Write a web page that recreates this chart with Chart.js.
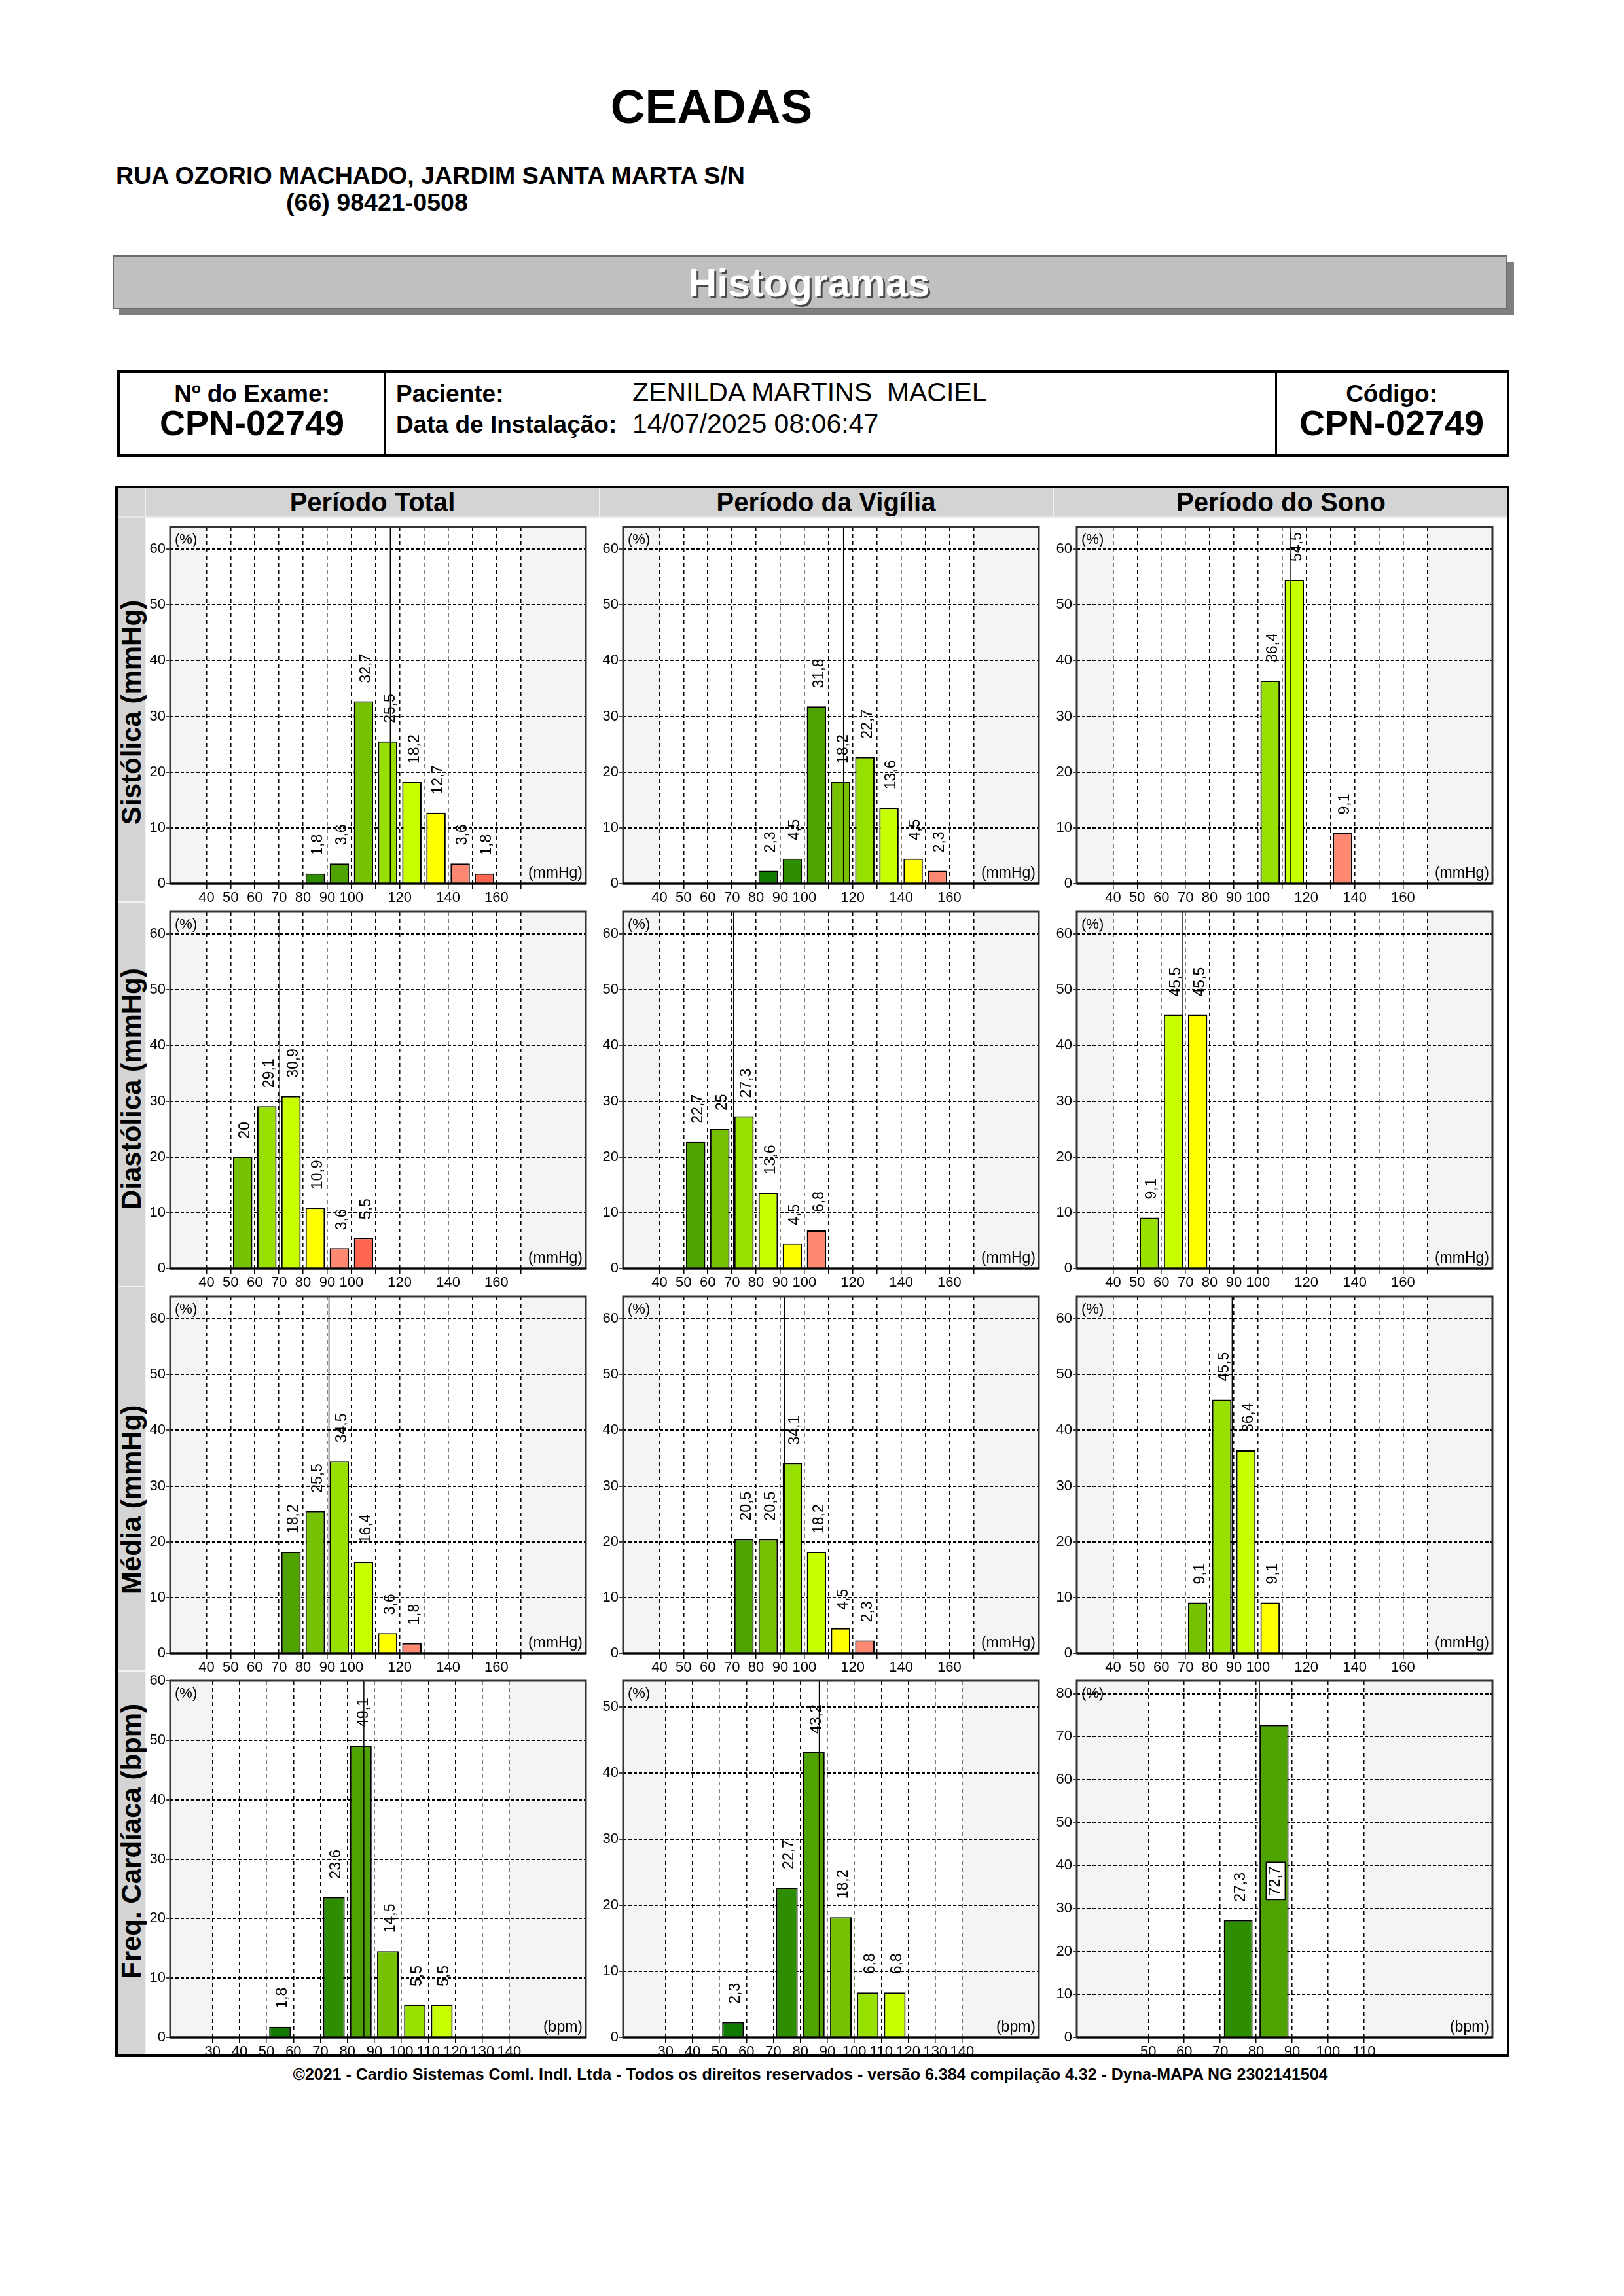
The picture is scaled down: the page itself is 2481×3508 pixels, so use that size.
<!DOCTYPE html>
<html>
<head>
<meta charset="utf-8">
<script src="https://cdn.jsdelivr.net/npm/chart.js@4.4.1/dist/chart.umd.min.js"></script>
<style>
body{margin:0;background:#fff;}
#page{position:relative;width:2481px;height:3508px;overflow:hidden;font-family:"Liberation Sans",Arial,sans-serif;color:#000;}
.t{position:absolute;line-height:1;white-space:pre;}
.c{text-align:center;}
.b{font-weight:bold;}
.box{position:absolute;box-sizing:border-box;}
.rot{position:absolute;width:600px;height:44px;line-height:44px;font-size:42px;font-weight:bold;white-space:pre;transform-origin:0 50%;transform:rotate(-90deg);}
canvas{position:absolute;}
</style>
</head>
<body>
<div id="page">
  <div class="t c b" style="left:87px;width:2000px;top:126px;font-size:73px;">CEADAS</div>
  <div class="t b" style="left:177px;top:250px;font-size:37.6px;">RUA OZORIO MACHADO, JARDIM SANTA MARTA S/N</div>
  <div class="t b" style="left:437px;top:291px;font-size:37.6px;">(66) 98421-0508</div>

  <div class="box" style="left:182px;top:400px;width:2131px;height:82px;background:#7f7f7f;"></div>
  <div class="box" style="left:172px;top:390px;width:2131px;height:82px;background:#c0c0c0;border:2px solid #6d6d6d;"></div>
  <div class="t c b" style="left:236px;width:2000px;top:402px;font-size:61px;color:#fff;text-shadow:3px 3px 0 #4a4a4a;">Histogramas</div>

  <div class="box" style="left:179px;top:566px;width:2127px;height:132px;border:4px solid #000;"></div>
  <div class="box" style="left:587px;top:566px;width:3px;height:132px;background:#000;"></div>
  <div class="box" style="left:1948px;top:566px;width:3px;height:132px;background:#000;"></div>
  <div class="t c b" style="left:185px;width:400px;top:583px;font-size:37px;">Nº do Exame:</div>
  <div class="t c b" style="left:185px;width:400px;top:619px;font-size:54px;">CPN-02749</div>
  <div class="t b" style="left:605px;top:583px;font-size:37px;">Paciente:</div>
  <div class="t" style="left:966px;top:579px;font-size:41px;">ZENILDA MARTINS  MACIEL</div>
  <div class="t b" style="left:605px;top:630px;font-size:37px;">Data de Instalação:</div>
  <div class="t" style="left:966px;top:627px;font-size:41px;">14/07/2025 08:06:47</div>
  <div class="t c b" style="left:1951px;width:350px;top:583px;font-size:37px;">Código:</div>
  <div class="t c b" style="left:1951px;width:350px;top:619px;font-size:54px;">CPN-02749</div>

  <div class="box" style="left:176px;top:742px;width:2130px;height:2401px;border:4px solid #000;"></div>
  <div class="box" style="left:180px;top:746px;width:2122px;height:44px;background:#d4d4d4;"></div>
  <div class="box" style="left:180px;top:790px;width:42px;height:2349px;background:#d4d4d4;"></div>
  <div class="box" style="left:221px;top:746px;width:2px;height:2393px;background:#f2f2f2;"></div>
  <div class="box" style="left:915px;top:746px;width:2px;height:44px;background:#f2f2f2;"></div>
  <div class="box" style="left:1608px;top:746px;width:2px;height:44px;background:#f2f2f2;"></div>
  <div class="box" style="left:180px;top:789px;width:2122px;height:2px;background:#e6e6e6;"></div>
  <div class="box" style="left:180px;top:1377px;width:42px;height:2px;background:#f2f2f2;"></div>
  <div class="box" style="left:180px;top:1965px;width:42px;height:2px;background:#f2f2f2;"></div>
  <div class="box" style="left:180px;top:2552px;width:42px;height:2px;background:#f2f2f2;"></div>
  <div class="t c b" style="left:269px;width:600px;top:747px;font-size:40px;">Período Total</div>
  <div class="t c b" style="left:962px;width:600px;top:747px;font-size:40px;">Período da Vigília</div>
  <div class="t c b" style="left:1657px;width:600px;top:747px;font-size:40px;">Período do Sono</div>
  <div class="rot" style="left:201px;top:1238px;">Sistólica (mmHg)</div>
  <div class="rot" style="left:201px;top:1826px;">Diastólica (mmHg)</div>
  <div class="rot" style="left:201px;top:2414px;">Média (mmHg)</div>
  <div class="rot" style="left:201px;top:3001px;">Freq. Cardíaca (bpm)</div>

  <div class="t c b" style="left:238px;width:2000px;top:3157px;font-size:25px;">©2021 - Cardio Sistemas Coml. Indl. Ltda - Todos os direitos reservados - versão 6.384 compilação 4.32 - Dyna-MAPA NG 2302141504</div>
</div>

<script>
// bar colours (from dark green to red)
var G1='#127a00', G2='#2f8d00', G3='#4fa300', G4='#76c200', G5='#98e000', G6='#c8ff00', AM='#ffff00', S1='#ff8872', S2='#ff6650';

// x axes: grid positions and which of them get a label
var pressGrid=[40,50,60,70,80,90,100,110,120,130,140,150,160,170];
var pressLabels=[40,50,60,70,80,90,100,120,140,160];
var fcGrid=[30,40,50,60,70,80,90,100,110,120,130,140];
var fcSonoGrid=[50,60,70,80,90,100,110];
var pctTicks60=[0,10,20,30,40,50,60];
var pctTicks50=[0,10,20,30,40,50];
var pctTicks80=[0,10,20,30,40,50,60,70,80];

// Sistólica (bin = lower edge, %)
var sisTotalBins=[80,90,100,110,120,130,140,150];
var sisTotalPct=[1.8,3.6,32.7,25.5,18.2,12.7,3.6,1.8];
var sisTotalCol=[G2,G3,G4,G5,G6,AM,S1,S2];
var sisVigBins=[80,90,100,110,120,130,140,150];
var sisVigPct=[2.3,4.5,31.8,18.2,22.7,13.6,4.5,2.3];
var sisVigCol=[G1,G2,G3,G4,G5,G6,AM,S1];
var sisSonoBins=[100,110,130];
var sisSonoPct=[36.4,54.5,9.1];
var sisSonoCol=[G5,G6,S1];

// Diastólica
var diaTotalBins=[50,60,70,80,90,100];
var diaTotalPct=[20,29.1,30.9,10.9,3.6,5.5];
var diaTotalCol=[G4,G5,G6,AM,S1,S2];
var diaVigBins=[50,60,70,80,90,100];
var diaVigPct=[22.7,25,27.3,13.6,4.5,6.8];
var diaVigCol=[G3,G4,G5,G6,AM,S1];
var diaSonoBins=[50,60,70];
var diaSonoPct=[9.1,45.5,45.5];
var diaSonoCol=[G5,G6,AM];

// Média
var medTotalBins=[70,80,90,100,110,120];
var medTotalPct=[18.2,25.5,34.5,16.4,3.6,1.8];
var medTotalCol=[G3,G4,G5,G6,AM,S1];
var medVigBins=[70,80,90,100,110,120];
var medVigPct=[20.5,20.5,34.1,18.2,4.5,2.3];
var medVigCol=[G3,G4,G5,G6,AM,S1];
var medSonoBins=[70,80,90,100];
var medSonoPct=[9.1,45.5,36.4,9.1];
var medSonoCol=[G4,G5,G6,AM];

// Freq. Cardíaca
var fcTotalBins=[50,70,80,90,100,110];
var fcTotalPct=[1.8,23.6,49.1,14.5,5.5,5.5];
var fcTotalCol=[G1,G2,G3,G4,G5,G6];
var fcVigBins=[50,70,80,90,100,110];
var fcVigPct=[2.3,22.7,43.2,18.2,6.8,6.8];
var fcVigCol=[G1,G2,G3,G4,G5,G6];
var fcSonoBins=[70,80];
var fcSonoPct=[27.3,72.7];
var fcSonoCol=[G2,G3];

// mean value marker (total, vigília, sono)
var sisMean=[116.1,116.2,113.3];
var diaMean=[70.3,70.7,68.9];
var medMean=[90.7,91.8,89.3];
var fcMean=[86.1,87.0,80.9];

var colLeft=[260,952,1645];
var rowTop=[805,1393,1981,2568];
var FONT='"Liberation Sans", Arial, sans-serif';
Chart.defaults.font.family=FONT;
Chart.defaults.color='#000';

var plotDeco={
  id:'plotDeco',
  beforeDraw:function(chart,args,o){
    var a=chart.chartArea, ctx=chart.ctx, xs=chart.scales.x;
    ctx.save();
    ctx.fillStyle='#f4f4f4';
    ctx.fillRect(a.left,a.top,a.width,a.height);
    var x0=xs.getPixelForValue(o.white[0]), x1=xs.getPixelForValue(o.white[1]);
    ctx.fillStyle='#fff';
    ctx.fillRect(x0,a.top,x1-x0,a.height);
    ctx.restore();
  },
  afterDraw:function(chart,args,o){
    var a=chart.chartArea, ctx=chart.ctx;
    ctx.save();
    ctx.strokeStyle='#333';ctx.lineWidth=3;
    ctx.strokeRect(a.left,a.top,a.width,a.height);
    ctx.strokeStyle='#000';
    ctx.beginPath();ctx.moveTo(a.left,a.bottom);ctx.lineTo(a.right,a.bottom);ctx.stroke();
    ctx.fillStyle='#000';
    ctx.font='22px '+FONT;
    ctx.textAlign='left';ctx.textBaseline='top';
    ctx.fillText('(%)',a.left+7,a.top+9);
    ctx.font='23px '+FONT;
    ctx.textAlign='right';ctx.textBaseline='bottom';
    ctx.fillText(o.unit,a.right-5,a.bottom-4);
    ctx.restore();
  }
};

var valueLabels={
  id:'valueLabels',
  afterDatasetsDraw:function(chart){
    var ctx=chart.ctx, a=chart.chartArea, meta=chart.getDatasetMeta(1);
    var pts=chart.data.datasets[1].data;
    ctx.save();
    ctx.font='23px '+FONT;
    meta.data.forEach(function(bar,i){
      var txt=String(pts[i].y).replace('.',',');
      var w=ctx.measureText(txt).width;
      var x=bar.x+4, y=bar.y-28;
      ctx.save();
      if(y-w<a.top+4){
        // no room above the bar: boxed label halfway up
        y=(bar.y+bar.base)/2+w/2;
        ctx.translate(x-2,y);ctx.rotate(-Math.PI/2);
        ctx.fillStyle='#fff';ctx.fillRect(-6,-14,w+12,29);
        ctx.strokeStyle='#000';ctx.lineWidth=2;ctx.strokeRect(-6,-14,w+12,29);
      } else {
        ctx.translate(x,y);ctx.rotate(-Math.PI/2);
      }
      ctx.fillStyle='#000';ctx.textAlign='left';ctx.textBaseline='middle';
      ctx.fillText(txt,0,0);
      ctx.restore();
    });
    ctx.restore();
  }
};

function makeChart(s){
  var cv=document.createElement('canvas');
  cv.width=697;cv.height=600;
  cv.style.left=(colLeft[s.col]-40)+'px';
  cv.style.top=(rowTop[s.row]-15)+'px';
  document.getElementById('page').appendChild(cv);
  var bars=s.bins.map(function(b,i){return {x:b+5,y:s.pct[i]};});
  new Chart(cv.getContext('2d'),{
    type:'bar',
    data:{datasets:[
      {type:'line',data:[{x:s.mean,y:0},{x:s.mean,y:s.yMax}],borderColor:'#000',borderWidth:1.5,pointRadius:0,order:0},
      {type:'bar',data:bars,backgroundColor:s.colors,borderColor:'#000',borderWidth:2,borderSkipped:'bottom',
       barPercentage:0.8,categoryPercentage:1,order:1}
    ]},
    options:{
      responsive:false,animation:false,devicePixelRatio:1,
      layout:{padding:{top:15,right:22,left:0,bottom:0}},
      plugins:{legend:{display:false},tooltip:{enabled:false},plotDeco:{white:s.white,unit:s.unit}},
      scales:{
        x:{type:'linear',min:s.xr[0],max:s.xr[1],offset:false,
           afterBuildTicks:function(ax){ax.ticks=s.grid.map(function(v){return {value:v};});},
           afterFit:function(ax){ax.height=40;},
           grid:{offset:false,color:'#000',lineWidth:1.5,tickLength:8,tickColor:'#000',tickWidth:1.5},
           border:{display:false,dash:[6,5]},
           ticks:{autoSkip:false,maxRotation:0,minRotation:0,padding:1,color:'#000',font:{size:22},
             callback:function(v){return s.labels.indexOf(v)>=0?String(v):'';}}
        },
        y:{min:0,max:s.yMax,
           afterBuildTicks:function(ax){ax.ticks=s.yTicks.map(function(v){return {value:v};});},
           afterFit:function(ax){ax.width=40;},
           grid:{color:'#000',lineWidth:2,tickLength:6,tickColor:'#000',tickWidth:1.5},
           border:{display:false,dash:[5,3]},
           ticks:{padding:1,color:'#000',font:{size:22}}
        }
      }
    },
    plugins:[plotDeco,valueLabels]
  });
}

var press={xr:[25,197],grid:pressGrid,labels:pressLabels,white:[40,170],unit:'(mmHg)',yMax:64,yTicks:pctTicks60};
function spec(base,extra){var o={};for(var k in base)o[k]=base[k];for(var j in extra)o[j]=extra[j];return o;}

makeChart(spec(press,{row:0,col:0,bins:sisTotalBins,pct:sisTotalPct,colors:sisTotalCol,mean:sisMean[0]}));
makeChart(spec(press,{row:0,col:1,bins:sisVigBins,pct:sisVigPct,colors:sisVigCol,mean:sisMean[1]}));
makeChart(spec(press,{row:0,col:2,bins:sisSonoBins,pct:sisSonoPct,colors:sisSonoCol,mean:sisMean[2]}));
makeChart(spec(press,{row:1,col:0,bins:diaTotalBins,pct:diaTotalPct,colors:diaTotalCol,mean:diaMean[0]}));
makeChart(spec(press,{row:1,col:1,bins:diaVigBins,pct:diaVigPct,colors:diaVigCol,mean:diaMean[1]}));
makeChart(spec(press,{row:1,col:2,bins:diaSonoBins,pct:diaSonoPct,colors:diaSonoCol,mean:diaMean[2]}));
makeChart(spec(press,{row:2,col:0,bins:medTotalBins,pct:medTotalPct,colors:medTotalCol,mean:medMean[0]}));
makeChart(spec(press,{row:2,col:1,bins:medVigBins,pct:medVigPct,colors:medVigCol,mean:medMean[1]}));
makeChart(spec(press,{row:2,col:2,bins:medSonoBins,pct:medSonoPct,colors:medSonoCol,mean:medMean[2]}));

var fc={xr:[14.3,168.4],grid:fcGrid,labels:fcGrid,white:[30,140],unit:'(bpm)'};
makeChart(spec(fc,{row:3,col:0,yMax:60,yTicks:pctTicks60,bins:fcTotalBins,pct:fcTotalPct,colors:fcTotalCol,mean:fcMean[0]}));
makeChart(spec(fc,{row:3,col:1,yMax:54,yTicks:pctTicks50,bins:fcVigBins,pct:fcVigPct,colors:fcVigCol,mean:fcMean[1]}));
makeChart(spec(fc,{row:3,col:2,xr:[30.1,145.7],grid:fcSonoGrid,labels:fcSonoGrid,white:[50,110],yMax:83,yTicks:pctTicks80,
  bins:fcSonoBins,pct:fcSonoPct,colors:fcSonoCol,mean:fcMean[2]}));
</script>
</body>
</html>
